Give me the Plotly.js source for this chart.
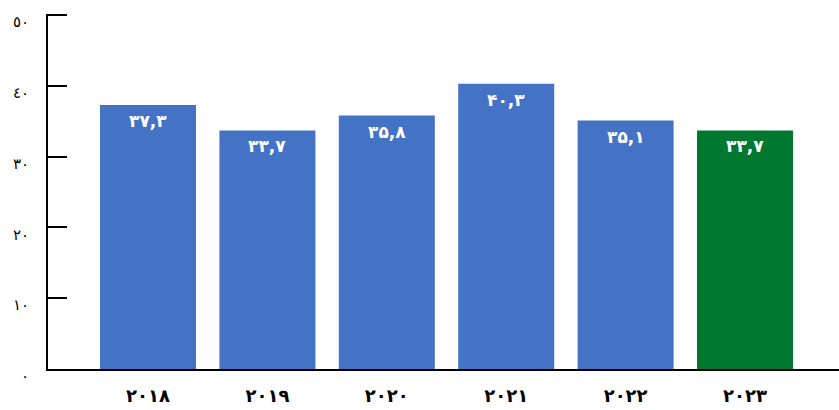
<!DOCTYPE html>
<html>
<head>
<meta charset="utf-8">
<script src="https://cdn.plot.ly/plotly-3.0.1.min.js"></script>
<style>
  html, body { margin: 0; padding: 0; background: #fff; }
  #chart { width: 839px; height: 410px; }
</style>
</head>
<body>
<div id="chart"></div>
<script>
// Years on the category axis
const years = ['۲۰۱۸', '۲۰۱۹', '۲۰۲۰', '۲۰۲۱', '۲۰۲۲', '۲۰۲۳'];
// Yearly values
const values = [37.3, 33.7, 35.8, 40.3, 35.1, 33.7];
// Bar colours: the latest year is highlighted
const barColors = ['#4472C4', '#4472C4', '#4472C4', '#4472C4', '#4472C4', '#00782F'];
// Value-axis ticks and their labels
const yTickVals = [0, 10, 20, 30, 40, 50];
const yTickText = ['٠', '١٠', '٢٠', '٣٠', '٤٠', '٥٠'];

// Write a number with Persian digits and a comma as decimal separator
const faDigits = ['۰', '۱', '۲', '۳', '۴', '۵', '۶', '۷', '۸', '۹'];
function toPersian(v) {
  return v.toFixed(1).replace('.', ',').replace(/[0-9]/g, d => faDigits[+d]);
}

const trace = {
  type: 'bar',
  x: years,
  y: values,
  marker: { color: barColors, line: { width: 0 } },
  hoverinfo: 'none'
};

// Value labels sit just inside the top of each bar
const labels = years.map((yr, i) => ({
  x: yr,
  y: values[i],
  xref: 'x',
  yref: 'y',
  text: toPersian(values[i]),
  showarrow: false,
  yanchor: 'middle',
  yshift: -16,
  font: { family: 'DejaVu Sans', size: 17, color: '#ffffff', weight: 'bold' }
}));

const layout = {
  width: 839,
  height: 410,
  margin: { l: 48, r: 0, t: 14, b: 41 },
  paper_bgcolor: '#ffffff',
  plot_bgcolor: '#ffffff',
  showlegend: false,
  bargap: 0.196,
  font: { family: 'DejaVu Sans', color: '#000000' },
  annotations: labels,
  xaxis: {
    type: 'category',
    range: [-0.8375, 5.787],
    showline: true,
    linecolor: '#000000',
    linewidth: 2,
    ticks: '',
    showgrid: false,
    zeroline: false,
    tickfont: { family: 'DejaVu Sans', size: 18, color: '#000000', weight: 'bold' },
    ticklabelstandoff: 9
  },
  yaxis: {
    // a hair above 50 so the top tick is kept
    range: [0, 50.15],
    showline: true,
    linecolor: '#000000',
    linewidth: 2,
    ticks: 'inside',
    ticklen: 19,
    tickwidth: 2,
    tickcolor: '#000000',
    tickvals: yTickVals,
    ticktext: yTickText,
    showgrid: false,
    zeroline: false,
    tickfont: { family: 'DejaVu Sans', size: 15, color: '#000000' },
    ticklabelstandoff: 14,
    ticklabelshift: 7
  }
};

Plotly.newPlot('chart', [trace], layout, { staticPlot: true, displayModeBar: false });
</script>
</body>
</html>
